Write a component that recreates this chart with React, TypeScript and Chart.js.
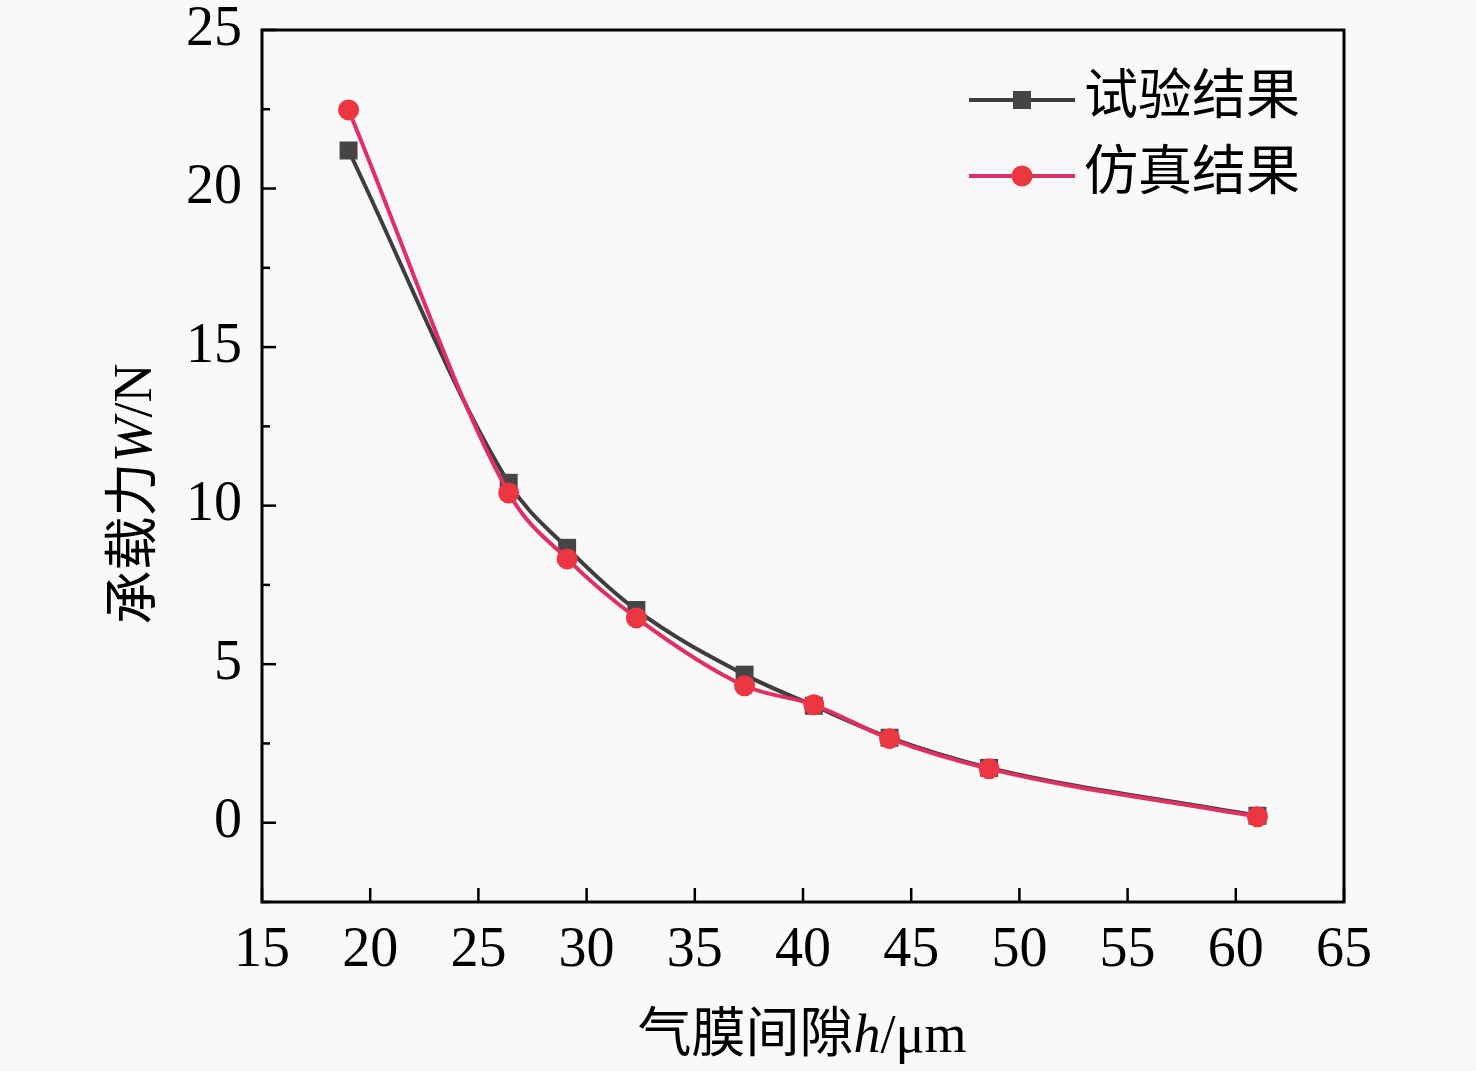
import React, { useEffect, useRef } from "react";
import { Chart, registerables } from "chart.js";

Chart.register(...registerables);

// ---- data ----
const gapUm = [19, 26.4, 29.1, 32.3, 37.3, 40.5, 44, 48.6, 61];
const testLoad = [21.2, 10.72, 8.67, 6.71, 4.67, 3.69, 2.68, 1.73, 0.22];
const simLoad = [22.48, 10.4, 8.32, 6.46, 4.32, 3.72, 2.65, 1.7, 0.19];
const seriesNames = ["试验结果", "仿真结果"];
const xTicks = [15, 20, 25, 30, 35, 40, 45, 50, 55, 60, 65];
const yTicks = [0, 5, 10, 15, 20, 25];
const yMinorTicks = [-2.5, 2.5, 7.5, 12.5, 17.5, 22.5];
const xTitleRuns = [
  { t: "气膜间隙", italic: false },
  { t: "h", italic: true },
  { t: "/μm", italic: false },
];
const yTitleRuns = [
  { t: "承载力", italic: false },
  { t: "W", italic: true },
  { t: "/N", italic: false },
];

const SERIF = '"Liberation Serif", "Noto Sans CJK SC", serif';
const BLACK_LINE = "#3d3d3d";
const BLACK_MARK = "#454545";
const RED_LINE = "#e02f62";
const RED_MARK = "#ec3642";

function drawRuns(ctx: CanvasRenderingContext2D, runs: { t: string; italic: boolean }[], cx: number, baseY: number, size: number) {
  const fonts = runs.map((r) => `${r.italic ? "italic " : ""}${size}px ${SERIF}`);
  let total = 0;
  const widths = runs.map((r, i) => {
    ctx.font = fonts[i];
    const w = ctx.measureText(r.t).width;
    total += w;
    return w;
  });
  let x = cx - total / 2;
  ctx.textAlign = "left";
  ctx.textBaseline = "alphabetic";
  runs.forEach((r, i) => {
    ctx.font = fonts[i];
    ctx.fillText(r.t, x, baseY);
    x += widths[i];
  });
}

const framePlugin = {
  id: "frame",
  afterDraw(chart: any) {
    const { ctx, chartArea: a, scales } = chart;
    const xs = scales.x;
    const ys = scales.y;
    ctx.save();
    ctx.strokeStyle = "#000";
    ctx.fillStyle = "#000";
    // box
    ctx.lineWidth = 3;
    ctx.strokeRect(a.left, a.top, a.right - a.left, a.bottom - a.top);
    // ticks (inward)
    ctx.lineWidth = 2.5;
    const line = (x1: number, y1: number, x2: number, y2: number) => {
      ctx.beginPath();
      ctx.moveTo(x1, y1);
      ctx.lineTo(x2, y2);
      ctx.stroke();
    };
    xTicks.forEach((v) => {
      const px = xs.getPixelForValue(v);
      line(px, a.bottom, px, a.bottom - 14);
    });
    yTicks.forEach((v) => {
      const py = ys.getPixelForValue(v);
      line(a.left, py, a.left + 14, py);
    });
    yMinorTicks.forEach((v) => {
      const py = ys.getPixelForValue(v);
      line(a.left, py, a.left + 8, py);
    });

    // legend
    const rows = [
      { y: 100, color: BLACK_LINE, mark: BLACK_MARK, style: "rect", name: seriesNames[0] },
      { y: 176, color: RED_LINE, mark: RED_MARK, style: "circle", name: seriesNames[1] },
    ];
    rows.forEach((r) => {
      ctx.strokeStyle = r.color;
      ctx.lineWidth = 4;
      line(969, r.y, 1075, r.y);
      ctx.fillStyle = r.mark;
      if (r.style === "rect") {
        ctx.fillRect(1022 - 9, r.y - 9, 18, 18);
      } else {
        ctx.beginPath();
        ctx.arc(1022, r.y, 10.5, 0, Math.PI * 2);
        ctx.fill();
      }
      ctx.fillStyle = "#000";
      ctx.font = `54px ${SERIF}`;
      ctx.textAlign = "left";
      ctx.textBaseline = "middle";
      ctx.fillText(r.name, 1084, r.y);
    });

    // axis titles
    ctx.fillStyle = "#000";
    drawRuns(ctx, xTitleRuns, 802, 1052, 54);
    ctx.save();
    ctx.translate(151, 494);
    ctx.rotate(-Math.PI / 2);
    drawRuns(ctx, yTitleRuns, 0, 0, 54);
    ctx.restore();
    ctx.restore();
  },
};

export default function App() {
  const ref = useRef<HTMLCanvasElement | null>(null);
  useEffect(() => {
    document.body.style.margin = "0";
    document.body.style.background = "#f9f9f9";
    if (!ref.current) return;
    const chart = new Chart(ref.current, {
      type: "line",
      data: {
        datasets: [
          {
            label: seriesNames[0],
            data: gapUm.map((x, i) => ({ x, y: testLoad[i] })),
            borderColor: BLACK_LINE,
            backgroundColor: BLACK_MARK,
            borderWidth: 4,
            pointStyle: "rect",
            pointRadius: 12.7,
            pointBorderWidth: 0,
            cubicInterpolationMode: "monotone",
            order: 2,
          },
          {
            label: seriesNames[1],
            data: gapUm.map((x, i) => ({ x, y: simLoad[i] })),
            borderColor: RED_LINE,
            backgroundColor: RED_MARK,
            borderWidth: 4,
            pointStyle: "circle",
            pointRadius: 10.5,
            pointBorderWidth: 0,
            cubicInterpolationMode: "monotone",
            order: 1,
          },
        ],
      },
      options: {
        animation: false,
        responsive: true,
        maintainAspectRatio: false,
        layout: { padding: { top: 30, right: 132, left: 0, bottom: 0 } },
        plugins: { legend: { display: false }, tooltip: { enabled: false } },
        scales: {
          x: {
            type: "linear",
            min: 15,
            max: 65,
            grid: { display: false, drawTicks: false },
            border: { display: false },
            ticks: {
              color: "#000",
              font: { family: SERIF, size: 56 },
              padding: 16,
              autoSkip: false,
              maxRotation: 0,
            },
            afterBuildTicks: (s: any) => {
              s.ticks = xTicks.map((v) => ({ value: v }));
            },
            afterFit: (s: any) => {
              s.height = 169;
              s.paddingLeft = 0;
              s.paddingRight = 0;
            },
          },
          y: {
            type: "linear",
            min: -2.5,
            max: 25,
            grid: { display: false, drawTicks: false },
            border: { display: false },
            ticks: {
              color: "#000",
              font: { family: SERIF, size: 56 },
              padding: 20,
              autoSkip: false,
            },
            afterBuildTicks: (s: any) => {
              s.ticks = yTicks.map((v) => ({ value: v }));
            },
            afterFit: (s: any) => {
              s.width = 262;
              s.paddingTop = 0;
              s.paddingBottom = 0;
            },
          },
        },
      },
      plugins: [framePlugin],
    } as any);
    return () => chart.destroy();
  }, []);
  return (
    <div style={{ position: "fixed", left: 0, top: 0, width: 1476, height: 1071, background: "#f9f9f9" }}>
      <canvas ref={ref} />
    </div>
  );
}
